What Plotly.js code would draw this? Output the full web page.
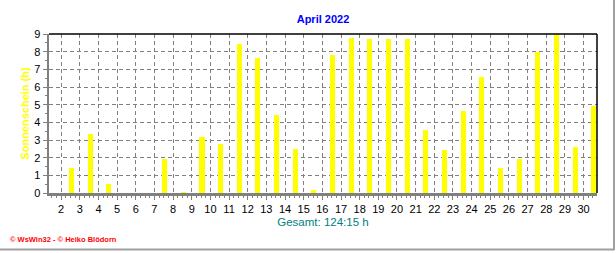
<!DOCTYPE html>
<html>
<head>
<meta charset="utf-8">
<script src="https://cdn.plot.ly/plotly-3.0.1.min.js"></script>
<style>html,body{margin:0;padding:0;background:#fff;}#chart{width:616px;height:253px;}</style>
</head>
<body>
<div id="chart"></div>
<script>
// Daily sunshine hours, April 2022
const days = [1,2,3,4,5,6,7,8,9,10,11,12,13,14,15,16,17,18,19,20,21,22,23,24,25,26,27,28,29,30];
const sunshine = [0.02,1.44,3.34,0.53,0.02,0.02,1.93,0.03,3.18,2.78,8.42,7.63,4.41,2.5,0.19,7.8,8.8,8.74,8.74,8.74,3.57,2.44,4.64,6.56,1.43,1.93,7.97,9.0,2.61,4.92];
const xTickVals = [2,3,4,5,6,7,8,9,10,11,12,13,14,15,16,17,18,19,20,21,22,23,24,25,26,27,28,29,30];
const yTickVals = [0,1,2,3,4,5,6,7,8,9];
const titleText = "April 2022";
const yTitle = "Sonnenschein (h)";
const totalText = "Gesamt: 124:15 h";
const creditText = "© WsWin32 - © Heiko Blödorn";

const barOffset = 0.55; // bars drawn in the middle of each day interval
const xs = days.map(d => d + barOffset);

const trace = {
  type: 'bar',
  x: xs,
  y: sunshine,
  width: 0.27,
  marker: {color: '#ffff00', line: {width: 0}},
  hoverinfo: 'skip'
};

const layout = {
  width: 616, height: 253,
  margin: {l: 49, r: 19, t: 34, b: 60, pad: 0},
  paper_bgcolor: '#ffffff',
  plot_bgcolor: '#ffffff',
  font: {family: 'Liberation Sans, Arial, sans-serif', size: 11, color: '#000'},
  showlegend: false,
  bargap: 0,
  title: {text: '<b>' + titleText + '</b>', font: {size: 11, color: '#0000ff'}, x: 0.5, xref: 'paper', xanchor: 'center', y: 0.925, yanchor: 'middle'},
  xaxis: {
    range: [1.35, 30.72],
    tickmode: 'array', tickvals: xTickVals, ticktext: xTickVals.map(String),
    ticks: 'outside', ticklen: 4, tickcolor: '#808080', tickwidth: 1,
    minor: {dtick: 0.25, ticks: 'outside', ticklen: 2, tickcolor: '#808080', showgrid: false},
    showgrid: true, gridcolor: '#808080', griddash: '4px,3px', gridwidth: 1,
    showline: true, linecolor: '#808080', linewidth: 2.5,
    zeroline: false,
    tickfont: {size: 11, color: '#000'},
    title: {text: totalText, font: {size: 11.5, color: '#008080'}, standoff: 4},
    fixedrange: true
  },
  yaxis: {
    range: [0, 9],
    tickmode: 'array', tickvals: yTickVals,
    ticks: 'outside', ticklen: 4, tickcolor: '#808080', tickwidth: 1,
    minor: {dtick: 0.5, ticks: 'outside', ticklen: 2, tickcolor: '#808080', showgrid: false},
    showgrid: true, gridcolor: '#808080', griddash: '4px,3px', gridwidth: 1,
    showline: true, linecolor: '#808080', linewidth: 2.5,
    zeroline: false,
    tickfont: {size: 11, color: '#000'},
    title: {text: '<b>' + yTitle + '</b>', font: {size: 11, color: '#ffff00'}, standoff: 3},
    fixedrange: true
  },
  shapes: [
    {type: 'line', xref: 'paper', yref: 'paper', x0: 0, x1: 1, y0: 1, y1: 1, line: {color: '#000', width: 1.5}},
    {type: 'line', xref: 'paper', yref: 'paper', x0: 1, x1: 1, y0: 0, y1: 1, line: {color: '#000', width: 1.5}},
    {type: 'line', xref: 'paper', yref: 'paper', x0: 1.031, x1: 1.031, y0: -0.36, y1: 1.25, line: {color: '#a0a0a0', width: 2}},
    {type: 'line', xref: 'paper', yref: 'paper', x0: -0.1, x1: 1.031, y0: -0.355, y1: -0.355, line: {color: '#a0a0a0', width: 2}}
  ],
  annotations: [
    {text: '<b>' + creditText + '</b>', xref: 'paper', yref: 'paper', x: -0.074, y: -0.29, xanchor: 'left', yanchor: 'middle', showarrow: false, font: {size: 7.5, color: '#ff0000'}}
  ]
};

Plotly.newPlot('chart', [trace], layout, {displayModeBar: false, staticPlot: true});
</script>
</body>
</html>
